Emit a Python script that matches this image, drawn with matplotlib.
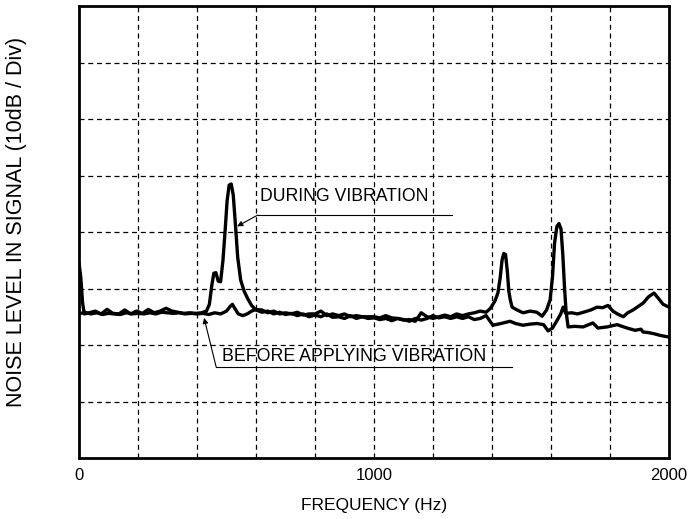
import matplotlib
matplotlib.use("Agg")
import matplotlib.pyplot as plt

# Noise spectrum (level in divisions, 10 dB / div)
during_hz = [0, 6, 12, 18, 35, 55, 75, 95, 115, 135, 155, 175, 195, 215, 235, 255,
             275, 295, 315, 335, 355, 375, 395, 415, 432, 442, 450, 457, 464, 472,
             480, 488, 495, 502, 509, 516, 523, 530, 538, 548, 560, 572, 585, 600,
             620, 640, 660, 680, 700, 720, 740, 760, 780, 800, 820, 840, 860, 880,
             900, 920, 940, 960, 980, 1000, 1020, 1040, 1060, 1080, 1100, 1120,
             1140, 1160, 1180, 1200, 1220, 1240, 1260, 1280, 1300, 1320, 1340,
             1360, 1380, 1395, 1410, 1420, 1428, 1434, 1440, 1446, 1452, 1457,
             1462, 1468, 1485, 1505, 1530, 1552, 1570, 1585, 1597, 1605, 1612,
             1620, 1627, 1634, 1640, 1646, 1651, 1658, 1680, 1709, 1742, 1759,
             1790, 1824, 1858, 1885, 1905, 1912, 1930, 1949, 1970, 2000]
during_lvl = [3.45, 3.2, 2.75, 2.55, 2.57, 2.6, 2.55, 2.63, 2.56, 2.55, 2.62, 2.55,
              2.6, 2.56, 2.63, 2.57, 2.6, 2.65, 2.6, 2.58, 2.56, 2.57, 2.56, 2.57,
              2.6, 2.72, 3.05, 3.27, 3.28, 3.13, 3.12, 3.5, 4.0, 4.55, 4.83, 4.85,
              4.65, 4.15, 3.55, 3.15, 2.95, 2.82, 2.7, 2.62, 2.58, 2.6, 2.55, 2.58,
              2.54, 2.56, 2.52, 2.55, 2.5, 2.53, 2.5, 2.55, 2.49, 2.5, 2.47, 2.52,
              2.47, 2.5, 2.47, 2.48, 2.45, 2.47, 2.43, 2.47, 2.44, 2.45, 2.42, 2.57,
              2.5, 2.47, 2.5, 2.53, 2.5, 2.55, 2.52, 2.55, 2.57, 2.6, 2.58, 2.65,
              2.78, 2.92, 3.2, 3.5, 3.62, 3.6, 3.3, 2.95, 2.8, 2.67, 2.62, 2.57,
              2.6, 2.58, 2.51, 2.62, 2.8, 3.2, 3.8, 4.1, 4.15, 4.05, 3.6, 3.0,
              2.6, 2.32, 2.33, 2.32, 2.39, 2.3, 2.32, 2.36, 2.3, 2.26, 2.28, 2.23,
              2.22, 2.2, 2.17, 2.14]

before_hz = [0, 20, 40, 60, 80, 100, 120, 140, 160, 180, 200, 220, 240, 260, 280,
             300, 320, 340, 360, 380, 400, 420, 440, 460, 480, 500, 512, 520, 528,
             540, 555, 570, 585, 600, 620, 640, 660, 680, 700, 720, 740, 760, 780,
             800, 820, 840, 860, 880, 900, 920, 940, 960, 980, 1000, 1020, 1040,
             1060, 1080, 1100, 1120, 1140, 1160, 1180, 1200, 1220, 1240, 1260,
             1280, 1300, 1320, 1340, 1360, 1380, 1403, 1430, 1461, 1480, 1505,
             1530, 1552, 1575, 1590, 1605, 1620, 1633, 1641, 1650, 1670, 1690,
             1710, 1735, 1756, 1775, 1793, 1810, 1825, 1845, 1860, 1878, 1895,
             1912, 1930, 1949, 1965, 1980, 2000]
before_lvl = [2.55, 2.58, 2.55, 2.57, 2.54, 2.56, 2.55, 2.54, 2.57, 2.55, 2.56,
              2.55, 2.57, 2.55, 2.58, 2.57, 2.56, 2.57, 2.55, 2.56, 2.55, 2.56,
              2.54, 2.57, 2.55, 2.6, 2.68, 2.72, 2.65, 2.55, 2.52, 2.55, 2.6, 2.63,
              2.62, 2.57, 2.6, 2.55, 2.57, 2.55, 2.58, 2.53, 2.55, 2.55, 2.6, 2.52,
              2.55, 2.52, 2.55, 2.5, 2.52, 2.5, 2.5, 2.5, 2.48, 2.52, 2.48, 2.47,
              2.45, 2.42, 2.47, 2.44, 2.47, 2.52, 2.48, 2.5, 2.47, 2.5, 2.47, 2.5,
              2.45, 2.47, 2.52, 2.35, 2.38, 2.42, 2.38, 2.35, 2.37, 2.38, 2.36,
              2.25, 2.3, 2.43, 2.55, 2.67, 2.56, 2.57, 2.55, 2.58, 2.62, 2.67,
              2.66, 2.7, 2.6, 2.55, 2.5, 2.57, 2.62, 2.68, 2.74, 2.85, 2.92, 2.82,
              2.72, 2.67]

xtick_vals = [0, 1000, 2000]
xtick_labels = ["0", "1000", "2000"]

plt.rcParams['font.family'] = ['Liberation Sans', 'DejaVu Sans']

fig = plt.figure(figsize=(6.89, 5.19), dpi=100)
ax = fig.add_axes([79 / 689, 61 / 519, 590 / 689, 452 / 519])

ax.plot(during_hz, during_lvl, color='black', lw=2.4, solid_joinstyle='round')
ax.plot(before_hz, before_lvl, color='black', lw=2.4, solid_joinstyle='round')

ax.set_xlim(0, 2000)
ax.set_ylim(0, 8)

# dashed grid: 200 Hz and 1 div steps
for gx in range(200, 2000, 200):
    ax.axvline(gx, color='black', lw=0.9, ls=(0, (4, 3)), zorder=0)
for gy in range(1, 8):
    ax.axhline(gy, color='black', lw=0.9, ls=(0, (4, 3)), zorder=0)

for sp in ax.spines.values():
    sp.set_linewidth(2)

ax.set_xticks(xtick_vals)
ax.set_xticklabels(xtick_labels, fontsize=12)
ax.set_yticks([])
ax.tick_params(axis='x', length=0, pad=7)

ax.set_xlabel("FREQUENCY (Hz)", fontsize=12.5, labelpad=11)
fig.text(17 / 689, 0.573, "NOISE LEVEL IN SIGNAL (10dB / Div)", rotation=90,
         fontsize=15.5, ha='center', va='center')

# callouts
ax.text(615, 4.62, "DURING VIBRATION", fontsize=12.7, ha='left', va='center')
ax.plot([606, 1265], [4.3, 4.3], color='black', lw=0.8)
ax.annotate("", xy=(536, 4.1), xytext=(606, 4.3),
            arrowprops=dict(arrowstyle='-|>', color='black', lw=0.8,
                            mutation_scale=8, shrinkA=0, shrinkB=0))

ax.text(485, 1.79, "BEFORE APPLYING VIBRATION", fontsize=12.8, ha='left', va='center')
ax.plot([465, 1468], [1.61, 1.61], color='black', lw=0.8)
ax.annotate("", xy=(424, 2.48), xytext=(465, 1.61),
            arrowprops=dict(arrowstyle='-|>', color='black', lw=0.8,
                            mutation_scale=8, shrinkA=0, shrinkB=0))

fig.savefig("out.png", dpi=100)
